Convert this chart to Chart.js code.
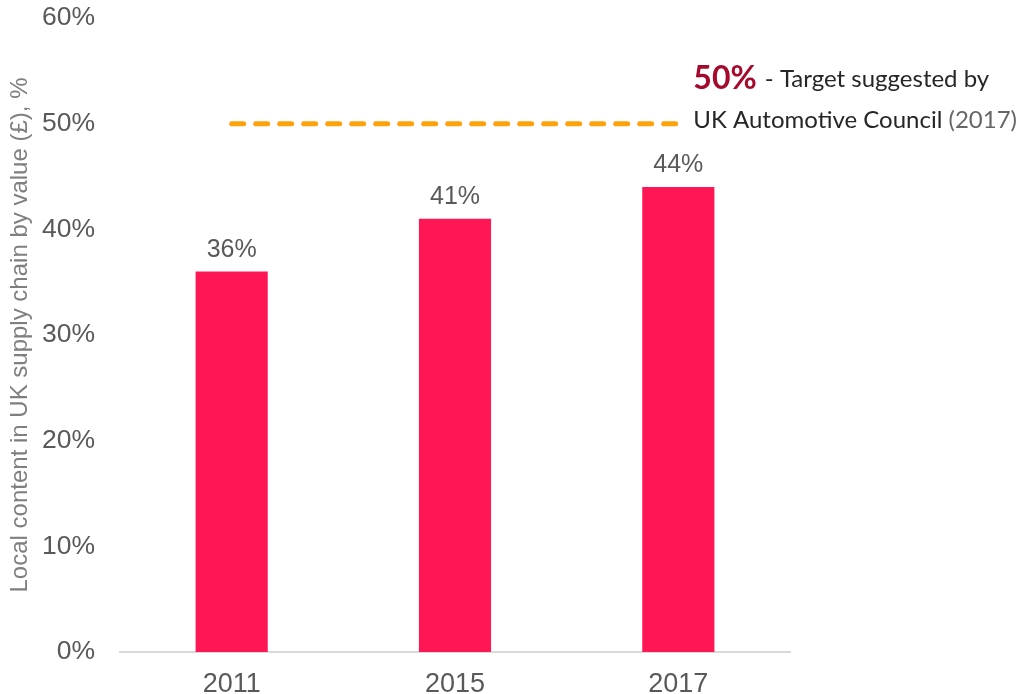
<!DOCTYPE html>
<html>
<head>
<meta charset="utf-8">
<script src="https://cdn.jsdelivr.net/npm/chart.js@4"></script>
<style>
  html, body { margin: 0; padding: 0; background: #fff; }
  #wrap { width: 1019px; height: 694px; position: relative; }
</style>
</head>
<body>
<div id="wrap"><canvas id="c"></canvas></div>
<script>
const years = ['2011', '2015', '2017'];
const localContent = [36, 41, 44];
const target = [50, 50, 50];
const yTicks = [0, 10, 20, 30, 40, 50, 60];
const yTitle = 'Local content in UK supply chain by value (£), %';
const noteBold = '50%';
const noteLine1 = ' - Target suggested by';
const noteLine2 = 'UK Automotive Council';
const noteYear = ' (2017)';

// value labels above the bars + the target note next to the dashed line
const labelsPlugin = {
  id: 'labels',
  afterDatasetsDraw(chart) {
    const ctx = chart.ctx;
    const meta = chart.getDatasetMeta(0);
    ctx.save();
    ctx.font = '25px "Liberation Sans", Arial, sans-serif';
    ctx.fillStyle = '#595959';
    ctx.textAlign = 'center';
    ctx.textBaseline = 'bottom';
    meta.data.forEach((bar, i) => {
      ctx.fillText(localContent[i] + '%', bar.x, bar.y - 9);
    });

    const lineMeta = chart.getDatasetMeta(1);
    const last = lineMeta.data[lineMeta.data.length - 1];
    const x0 = last.x + 15;
    const y50 = chart.scales.y.getPixelForValue(target[target.length - 1]);
    ctx.textAlign = 'left';
    ctx.textBaseline = 'middle';
    ctx.font = 'bold 32px Lato, "Noto Sans", sans-serif';
    ctx.fillStyle = '#A50A2E';
    ctx.fillText(noteBold, x0, y50 - 45);
    let w = ctx.measureText(noteBold).width;
    ctx.font = '24px Lato, "Noto Sans", sans-serif';
    ctx.fillStyle = '#262626';
    ctx.fillText(noteLine1, x0 + w + 2, y50 - 44);
    ctx.fillText(noteLine2, x0, y50 - 3);
    w = ctx.measureText(noteLine2).width;
    ctx.fillStyle = '#666666';
    ctx.fillText(noteYear, x0 + w, y50 - 3);
    ctx.restore();
  }
};

new Chart(document.getElementById('c'), {
  data: {
    labels: years,
    datasets: [
      {
        type: 'bar',
        data: localContent,
        backgroundColor: '#FF1654',
        categoryPercentage: 1,
        barPercentage: 0.323,
        order: 2
      },
      {
        type: 'line',
        data: target,
        borderColor: '#FFA20C',
        borderWidth: 5,
        borderDash: [12, 12],
        borderCapStyle: 'round',
        pointRadius: 0,
        fill: false,
        order: 1
      }
    ]
  },
  options: {
    responsive: true,
    maintainAspectRatio: false,
    animation: false,
    layout: { padding: { top: 18, right: 229, left: 0, bottom: 0 } },
    plugins: { legend: { display: false }, tooltip: { enabled: false } },
    scales: {
      x: {
        grid: { display: false, drawTicks: false },
        border: { display: true, color: '#d9d9d9', width: 2 },
        ticks: { color: '#595959', font: { size: 27, family: '"Liberation Sans", Arial, sans-serif' }, padding: 16 },
        afterFit: s => { s.height = 42; }
      },
      y: {
        min: 0,
        max: 60,
        afterBuildTicks: s => { s.ticks = yTicks.map(v => ({ value: v })); },
        grid: { display: false, drawTicks: false },
        border: { display: false },
        ticks: {
          color: '#595959',
          padding: 25,
          font: { size: 26.5, family: '"Liberation Sans", Arial, sans-serif' },
          callback: v => v + '%'
        },
        title: {
          display: true,
          text: yTitle,
          color: '#7f7f7f',
          font: { size: 24, family: '"Liberation Sans", Arial, sans-serif' },
          padding: { top: 6, bottom: 0 }
        },
        afterFit: s => { s.width = 120; s.paddingTop = 0; s.paddingBottom = 0; }
      }
    }
  },
  plugins: [labelsPlugin]
});
</script>
</body>
</html>
